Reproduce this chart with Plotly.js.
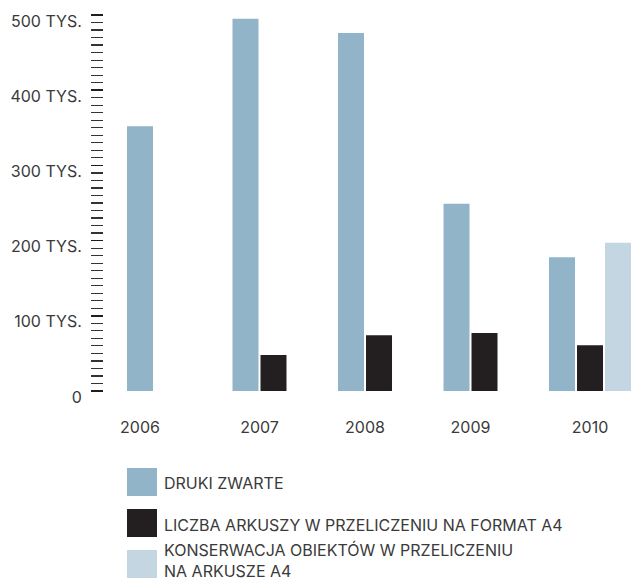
<!DOCTYPE html>
<html>
<head>
<meta charset="utf-8">
<script src="https://cdn.plot.ly/plotly-3.0.1.min.js"></script>
<style>html,body{margin:0;padding:0;background:#fff;}</style>
</head>
<body>
<div id="chart" style="width:632px;height:581px;"></div>
<script>
var years = ['2006', '2007', '2008', '2009', '2010'];
var seriesNames = ['DRUKI ZWARTE', 'LICZBA ARKUSZY W PRZELICZENIU NA FORMAT A4', 'KONSERWACJA OBIEKTÓW W PRZELICZENIU<br>NA ARKUSZE A4'];
var drukiZwarte = [352, 495, 476, 249, 178];
var liczbaArkuszy = [null, 48, 74, 77, 61];
var konserwacja = [null, null, null, null, 197];
var yTickVals = [0, 100, 200, 300, 400, 500];
var yTickText = ['0', '100 TYS.', '200 TYS.', '300 TYS.', '400 TYS.', '500 TYS.'];

var colors = ['#92b4c8', '#231f20', '#c4d6e1'];
var series = [drukiZwarte, liczbaArkuszy, konserwacja];
var bargap = 0.204;
var slot = (1 - bargap) / series.length;
var xIdx = years.map(function (_, i) { return i; });

var traces = series.map(function (vals, s) {
  return {
    type: 'bar', x: xIdx, y: vals, name: seriesNames[s],
    marker: { color: colors[s] }, showlegend: false, hoverinfo: 'y'
  };
});

// year label positions: centred on the bars that exist in each group
var tickPos = xIdx.map(function (i) {
  var offs = [];
  series.forEach(function (vals, s) {
    if (vals[i] !== null && vals[i] !== undefined) offs.push((s - (series.length - 1) / 2) * slot);
  });
  var m = offs.reduce(function (a, b) { return a + b; }, 0) / offs.length;
  return i + m;
});

var W = 632, H = 581, L = 104, R = 0, T = 15, B = 190;
var pw = W - L - R, ph = H - T - B;
function px(x) { return (x - L) / pw; }
function py(y) { return (H - B - y) / ph; }

var fam = 'Inter, Roboto, "Noto Sans", sans-serif';
var font = { family: fam, size: 16, color: '#3a3a3a' };

var shapes = [], annotations = [];
var legendRows = [
  { y0: 468, y1: 496, color: colors[0], ty: 483 },
  { y0: 509, y1: 537, color: colors[1], ty: 525 },
  { y0: 550, y1: 578, color: colors[2], ty: 560 }
];
legendRows.forEach(function (r, i) {
  shapes.push({ type: 'rect', xref: 'paper', yref: 'paper', x0: px(127), x1: px(157), y0: py(r.y1), y1: py(r.y0),
    fillcolor: r.color, line: { width: 0 } });
  annotations.push({ xref: 'paper', yref: 'paper', x: px(163), y: py(r.ty), xanchor: 'left', yanchor: 'middle',
    align: 'left', text: seriesNames[i], showarrow: false, font: font, borderpad: 0 });
});

var layout = {
  width: W, height: H,
  margin: { l: L, r: R, t: T, b: B, pad: 0 },
  paper_bgcolor: '#ffffff', plot_bgcolor: '#ffffff',
  barmode: 'group', bargap: bargap, bargroupgap: 0.071,
  font: font,
  xaxis: {
    range: [-0.6066, 4.398], tickmode: 'array', tickvals: tickPos, ticktext: years,
    showgrid: false, zeroline: false, showline: false, ticks: '',
    ticklabelstandoff: 25, tickfont: { family: fam, size: 16, color: '#3a3a3a' }, fixedrange: true
  },
  yaxis: {
    range: [0, 500], tickmode: 'array', tickvals: yTickVals, ticktext: yTickText,
    showgrid: false, zeroline: false, showline: false,
    ticks: 'outside', ticklen: 12, tickwidth: 1.5, tickcolor: '#1e1e1e',
    minor: { dtick: 10, ticks: 'outside', ticklen: 12, tickwidth: 1.2, tickcolor: '#333', showgrid: false },
    ticklabelstandoff: 6, ticklabelshift: 6,
    tickfont: { family: fam, size: 16, color: '#3a3a3a' }, fixedrange: true
  },
  shapes: shapes,
  annotations: annotations
};

Plotly.newPlot('chart', traces, layout, { displayModeBar: false, staticPlot: true });
</script>
</body>
</html>
